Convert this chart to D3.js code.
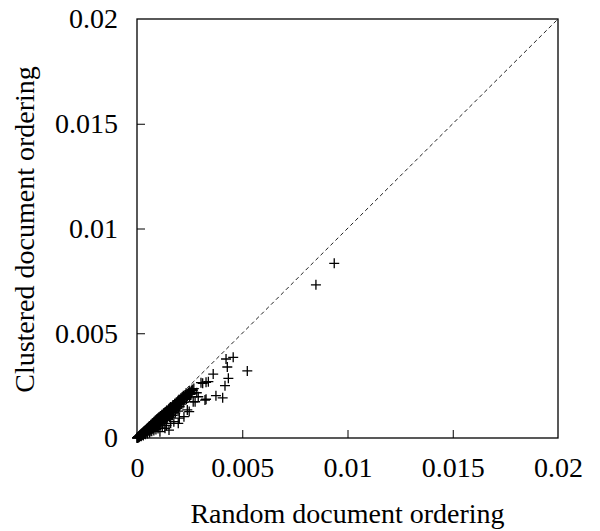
<!DOCTYPE html>
<html>
<head>
<meta charset="utf-8">
<script src="https://cdn.jsdelivr.net/npm/d3@7"></script>
<style>
  html, body { margin: 0; padding: 0; background: #fff; }
  svg { display: block; }
  text { font-family: "Liberation Serif", "Times New Roman", serif; fill: #000; }
</style>
</head>
<body>
<div class="chart"></div>
<script>
// tick values / labels
const xTicks = [0, 0.005, 0.01, 0.015, 0.02]
const yTicks = [0, 0.005, 0.01, 0.015, 0.02]
const tickLabels = ['0', '0.005', '0.01', '0.015', '0.02']

// [random ordering, clustered ordering] - the dense bunch near the origin
const densePairs = [
  [0.02e-3,0.02e-3],[0.03e-3,0.02e-3],[0.04e-3,0.03e-3],[0.05e-3,0.05e-3],[0.06e-3,0.04e-3],
  [0.07e-3,0.06e-3],[0.08e-3,0.07e-3],[0.09e-3,0.06e-3],[0.10e-3,0.09e-3],[0.11e-3,0.08e-3],
  [0.12e-3,0.11e-3],[0.13e-3,0.10e-3],[0.14e-3,0.12e-3],[0.15e-3,0.11e-3],[0.16e-3,0.15e-3],
  [0.17e-3,0.13e-3],[0.18e-3,0.16e-3],[0.19e-3,0.14e-3],[0.20e-3,0.19e-3],[0.21e-3,0.17e-3],
  [0.22e-3,0.20e-3],[0.23e-3,0.16e-3],[0.24e-3,0.22e-3],[0.25e-3,0.21e-3],[0.26e-3,0.19e-3],
  [0.27e-3,0.25e-3],[0.28e-3,0.23e-3],[0.29e-3,0.20e-3],[0.30e-3,0.28e-3],[0.31e-3,0.26e-3],
  [0.32e-3,0.22e-3],[0.33e-3,0.30e-3],[0.34e-3,0.27e-3],[0.35e-3,0.24e-3],[0.36e-3,0.33e-3],
  [0.37e-3,0.31e-3],[0.38e-3,0.27e-3],[0.39e-3,0.36e-3],[0.40e-3,0.33e-3],[0.41e-3,0.28e-3],
  [0.42e-3,0.39e-3],[0.43e-3,0.35e-3],[0.44e-3,0.31e-3],[0.45e-3,0.42e-3],[0.46e-3,0.38e-3],
  [0.47e-3,0.33e-3],[0.48e-3,0.44e-3],[0.50e-3,0.40e-3],[0.52e-3,0.47e-3],[0.53e-3,0.36e-3],
  [0.55e-3,0.50e-3],[0.56e-3,0.44e-3],[0.58e-3,0.52e-3],[0.60e-3,0.41e-3],[0.61e-3,0.56e-3],
  [0.63e-3,0.50e-3],[0.65e-3,0.59e-3],[0.66e-3,0.46e-3],[0.68e-3,0.62e-3],[0.70e-3,0.55e-3],
  [0.72e-3,0.66e-3],[0.73e-3,0.50e-3],[0.75e-3,0.68e-3],[0.77e-3,0.60e-3],[0.79e-3,0.72e-3],
  [0.80e-3,0.54e-3],[0.82e-3,0.75e-3],[0.84e-3,0.66e-3],[0.86e-3,0.78e-3],[0.88e-3,0.60e-3],
  [0.90e-3,0.82e-3],[0.92e-3,0.72e-3],[0.94e-3,0.86e-3],[0.96e-3,0.65e-3],[0.98e-3,0.88e-3],
  [1.00e-3,0.78e-3],[1.02e-3,0.93e-3],[1.04e-3,0.70e-3],[1.06e-3,0.96e-3],[1.08e-3,0.84e-3],
  [1.10e-3,0.99e-3],[1.12e-3,0.75e-3],[1.15e-3,1.03e-3],[1.17e-3,0.90e-3],[1.20e-3,1.07e-3],
  [1.22e-3,0.80e-3],[1.25e-3,1.12e-3],[1.28e-3,0.98e-3],[1.30e-3,1.16e-3],[1.33e-3,0.88e-3],
  [1.35e-3,1.20e-3],[1.38e-3,1.05e-3],[1.40e-3,1.25e-3],[1.43e-3,0.94e-3],[1.46e-3,1.30e-3],
  [1.50e-3,1.12e-3],[1.52e-3,1.35e-3],[1.55e-3,1.00e-3],[1.58e-3,1.40e-3],[1.62e-3,1.22e-3],
  [1.65e-3,1.46e-3],[1.68e-3,1.08e-3],[1.72e-3,1.52e-3],[1.75e-3,1.32e-3],[1.78e-3,1.58e-3],
  [1.82e-3,1.20e-3],[1.85e-3,1.63e-3],[1.88e-3,1.40e-3],[1.92e-3,1.70e-3],[1.95e-3,1.28e-3],
  [1.98e-3,1.75e-3],[2.02e-3,1.50e-3],[2.05e-3,1.80e-3],[2.10e-3,1.62e-3],[2.12e-3,1.86e-3],
  [2.18e-3,1.93e-3],[2.22e-3,1.70e-3],[2.25e-3,1.98e-3],[2.30e-3,2.05e-3],[2.35e-3,1.85e-3],
  [2.38e-3,2.10e-3],[2.45e-3,2.15e-3],[2.52e-3,2.20e-3],[2.58e-3,2.25e-3],[2.65e-3,2.28e-3]
]

// second pass over the bunch, filling between the first
const fillPairs = [
  [0.01e-3,0.00e-3],[0.00e-3,0.01e-3],[0.05e-3,0.02e-3],[0.09e-3,0.04e-3],[0.12e-3,0.07e-3],
  [0.15e-3,0.14e-3],[0.18e-3,0.10e-3],[0.21e-3,0.20e-3],[0.24e-3,0.14e-3],[0.27e-3,0.18e-3],
  [0.30e-3,0.20e-3],[0.33e-3,0.32e-3],[0.36e-3,0.20e-3],[0.39e-3,0.30e-3],[0.42e-3,0.24e-3],
  [0.45e-3,0.36e-3],[0.49e-3,0.47e-3],[0.51e-3,0.33e-3],[0.54e-3,0.42e-3],[0.57e-3,0.55e-3],
  [0.59e-3,0.47e-3],[0.62e-3,0.32e-3],[0.64e-3,0.54e-3],[0.67e-3,0.64e-3],[0.69e-3,0.42e-3],
  [0.71e-3,0.60e-3],[0.74e-3,0.71e-3],[0.76e-3,0.52e-3],[0.78e-3,0.65e-3],[0.81e-3,0.78e-3],
  [0.83e-3,0.58e-3],[0.85e-3,0.70e-3],[0.87e-3,0.83e-3],[0.89e-3,0.66e-3],[0.91e-3,0.76e-3],
  [0.93e-3,0.90e-3],[0.95e-3,0.58e-3],[0.97e-3,0.82e-3],[0.99e-3,0.94e-3],[1.01e-3,0.68e-3],
  [1.03e-3,0.86e-3],[1.05e-3,1.00e-3],[1.07e-3,0.62e-3],[1.09e-3,0.90e-3],[1.11e-3,1.05e-3],
  [1.14e-3,0.82e-3],[1.16e-3,0.96e-3],[1.18e-3,1.11e-3],[1.21e-3,0.70e-3],[1.23e-3,1.02e-3],
  [1.26e-3,1.18e-3],[1.29e-3,0.84e-3],[1.31e-3,1.08e-3],[1.34e-3,1.24e-3],[1.37e-3,0.96e-3],
  [1.39e-3,1.15e-3],[1.42e-3,1.32e-3],[1.45e-3,1.02e-3],[1.48e-3,1.22e-3],[1.51e-3,1.40e-3],
  [1.54e-3,1.16e-3],[1.57e-3,1.30e-3],[1.60e-3,1.48e-3],[1.63e-3,1.10e-3],[1.66e-3,1.36e-3],
  [1.70e-3,1.56e-3],[1.73e-3,1.22e-3],[1.76e-3,1.44e-3],[1.80e-3,1.64e-3],[1.83e-3,1.35e-3],
  [1.87e-3,1.70e-3],[1.90e-3,1.52e-3],[1.94e-3,1.78e-3],[1.97e-3,1.44e-3],[2.00e-3,1.84e-3],
  [2.04e-3,1.64e-3],[2.08e-3,1.90e-3],[2.14e-3,1.76e-3],[2.20e-3,2.02e-3],[2.27e-3,1.88e-3],
  [2.33e-3,2.14e-3],[2.40e-3,1.98e-3],[2.48e-3,2.24e-3],[2.55e-3,2.08e-3],[2.62e-3,2.32e-3],
  [1.56e-3,1.44e-3],[1.69e-3,1.48e-3],[1.81e-3,1.58e-3],[1.93e-3,1.60e-3],[2.07e-3,1.72e-3],
  [2.16e-3,1.84e-3],[2.28e-3,1.96e-3],[2.42e-3,2.06e-3],[2.50e-3,1.96e-3],[2.70e-3,2.36e-3]
]

// lower stragglers of the bunch
const lowPairs = [
  [0.20e-3,0.08e-3],[0.30e-3,0.12e-3],[0.40e-3,0.18e-3],[0.50e-3,0.22e-3],[0.60e-3,0.25e-3],
  [0.70e-3,0.32e-3],[0.80e-3,0.36e-3],[0.90e-3,0.40e-3],[1.00e-3,0.45e-3],[1.09e-3,0.30e-3],
  [1.20e-3,0.52e-3],[1.33e-3,0.46e-3],[1.52e-3,0.38e-3],[1.40e-3,0.60e-3],[1.60e-3,0.70e-3],
  [1.75e-3,0.78e-3],[1.96e-3,0.70e-3],[2.01e-3,0.95e-3],[2.23e-3,1.02e-3],[2.39e-3,1.34e-3],
  [2.48e-3,1.26e-3],[2.67e-3,1.73e-3],[2.60e-3,2.13e-3],[2.84e-3,2.16e-3],[2.76e-3,1.73e-3]
]

// the scattered points further out
const outlierPairs = [
  [9.37e-3,8.34e-3],[8.50e-3,7.31e-3],[5.24e-3,3.20e-3],[4.57e-3,3.85e-3],[4.23e-3,3.77e-3],
  [4.29e-3,3.39e-3],[3.62e-3,3.05e-3],[3.28e-3,2.66e-3],[3.12e-3,2.61e-3],[4.34e-3,2.85e-3],
  [4.18e-3,2.50e-3],[3.75e-3,2.02e-3],[4.07e-3,1.92e-3],[3.28e-3,1.85e-3],[2.91e-3,1.97e-3],
  [3.04e-3,2.64e-3],[3.39e-3,2.69e-3],[3.23e-3,1.81e-3]
]

{
  const W = 600, H = 531
  const serif = '"Liberation Serif", "Times New Roman", serif'
  const fontSize = 28
  const margin = {left: 137, top: 19, right: 42, bottom: 93}
  const w = W - margin.left - margin.right
  const h = H - margin.top - margin.bottom

  let svg = d3.select('.chart').append('svg')
    .attr('width', W)
    .attr('height', H)
    .attr('font-family', serif)

  let g = svg.append('g')
    .attr('transform', `translate(${margin.left},${margin.top})`)

  let x = d3.scaleLinear().domain([0, 0.02]).range([0, w])
  let y = d3.scaleLinear().domain([0, 0.02]).range([h, 0])

  // axes, ticks pointing inwards
  let xAxis = d3.axisBottom(x)
    .tickValues(xTicks)
    .tickFormat((d, i) => tickLabels[i])
    .tickSizeInner(-8)
    .tickSizeOuter(0)
    .tickPadding(19)
  let yAxis = d3.axisLeft(y)
    .tickValues(yTicks)
    .tickFormat((d, i) => tickLabels[i])
    .tickSizeInner(-8)
    .tickSizeOuter(0)
    .tickPadding(19)

  let gx = g.append('g').attr('transform', `translate(0,${h})`).call(xAxis)
  let gy = g.append('g').call(yAxis)
  ;[gx, gy].forEach(a => {
    a.attr('font-family', serif).attr('font-size', fontSize)
    a.select('.domain').remove()
    a.selectAll('line').attr('stroke', '#000').attr('stroke-width', 1)
    a.selectAll('text').attr('fill', '#000')
  })
  // first and last ticks sit on the frame
  gx.selectAll('.tick').filter(d => d === 0 || d === 0.02).select('line').remove()
  gy.selectAll('.tick').filter(d => d === 0 || d === 0.02).select('line').remove()

  // diagonal y = x
  g.append('line')
    .attr('x1', x(0)).attr('y1', y(0))
    .attr('x2', x(0.02)).attr('y2', y(0.02))
    .attr('stroke', '#222')
    .attr('stroke-width', 1)
    .attr('stroke-dasharray', '4,3')

  // plus markers
  let allPairs = densePairs.concat(fillPairs, lowPairs, outlierPairs)
  let s = 5
  g.append('g').selectAll('path.pt')
    .data(allPairs)
    .enter()
    .append('path')
    .attr('class', 'pt')
    .attr('d', d => {
      let px = x(d[0]), py = y(d[1])
      return `M${px - s},${py}H${px + s}M${px},${py - s}V${py + s}`
    })
    .attr('stroke', '#000')
    .attr('stroke-width', 1.3)
    .attr('fill', 'none')

  // frame
  g.append('rect')
    .attr('x', 0).attr('y', 0)
    .attr('width', w).attr('height', h)
    .attr('fill', 'none')
    .attr('stroke', '#000')
    .attr('stroke-width', 1.3)

  // axis titles
  svg.append('text')
    .attr('x', margin.left + w / 2)
    .attr('y', 523)
    .attr('text-anchor', 'middle')
    .attr('font-size', fontSize)
    .text('Random document ordering')

  svg.append('text')
    .attr('transform', `translate(34,${margin.top + h / 2 + 1}) rotate(-90)`)
    .attr('text-anchor', 'middle')
    .attr('font-size', fontSize)
    .text('Clustered document ordering')
}
</script>
</body>
</html>
